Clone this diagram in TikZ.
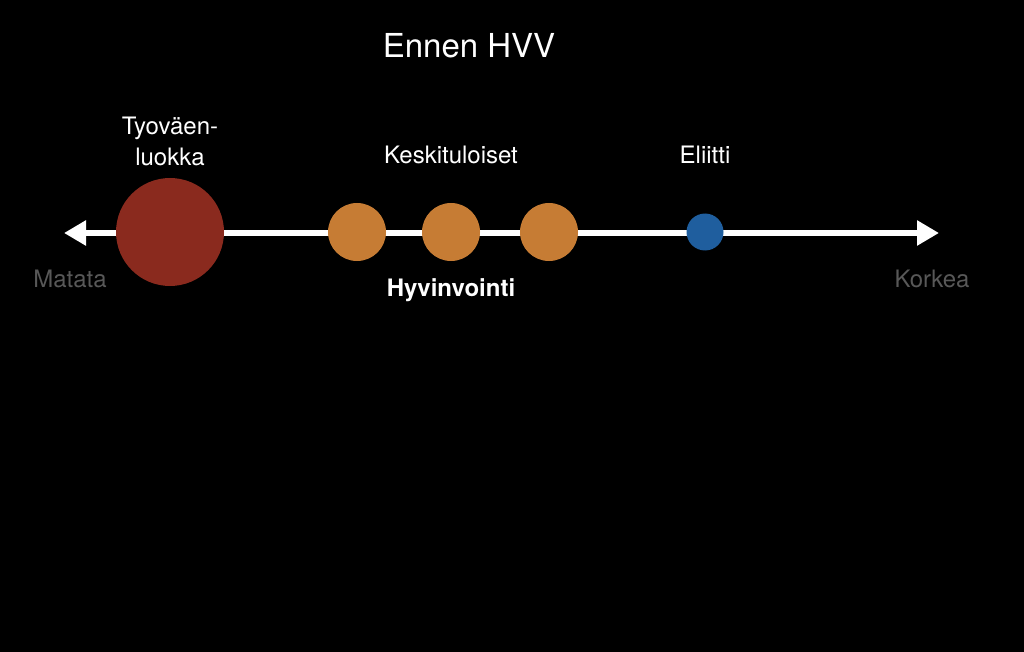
\documentclass[tikz,border=0pt]{standalone}
\usepackage{fontspec}
\setmainfont{TeX Gyre Heros}
\usetikzlibrary{arrows.meta}
\definecolor{redc}{HTML}{8A2A1E}
\definecolor{orangec}{HTML}{C67C34}
\definecolor{bluec}{HTML}{1F5E9E}
\definecolor{grayt}{HTML}{585858}
\tikzset{
  lbl/.style={text=white, font=\fontsize{24}{28}\selectfont, inner sep=0pt},
  endlbl/.style={text=grayt, font=\fontsize{24}{28}\selectfont, inner sep=0pt},
  dot/.style={circle, inner sep=0pt, draw=none},
  axis/.style={white, line width=6pt, {Triangle[length=22pt,width=24pt]}-{Triangle[length=22pt,width=24pt]}}
}
\begin{document}
\begin{tikzpicture}[x=1pt,y=-1pt]
\fill[black] (0,0) rectangle (1024,652);
\useasboundingbox (0,0) rectangle (1024,652);
\coordinate (L) at (64,233);
\coordinate (R) at (939,233);
\draw[axis] (L) -- (R);
\node[dot, fill=redc, minimum size=108pt] (w) at (170,232) {};
\node[dot, fill=orangec, minimum size=58pt] (m1) at (357,232) {};
\node[dot, fill=orangec, minimum size=58pt] (m2) at (451,232) {};
\node[dot, fill=orangec, minimum size=58pt] (m3) at (549,232) {};
\node[dot, fill=bluec, minimum size=37pt] (e) at (705,232) {};
\node[text=white, font=\fontsize{33}{38}\selectfont, inner sep=0pt] (title) at (469,46) {Ennen HVV};
\node[lbl] (wl1) at (170,128) {Tyoväen-};
\node[lbl] (wl2) at (170,157) {luokka};
\node[lbl] (ml) at (451,155) {Keskituloiset};
\node[lbl] (el) at (705,155) {Eliitti};
\node[endlbl] (lo) at (70,279) {Matata};
\node[endlbl] (hi) at (932,279) {Korkea};
\node[text=white, font=\fontsize{24}{28}\selectfont\bfseries, inner sep=0pt] (ax) at (451,290) {Hyvinvointi};
\end{tikzpicture}
\end{document}
